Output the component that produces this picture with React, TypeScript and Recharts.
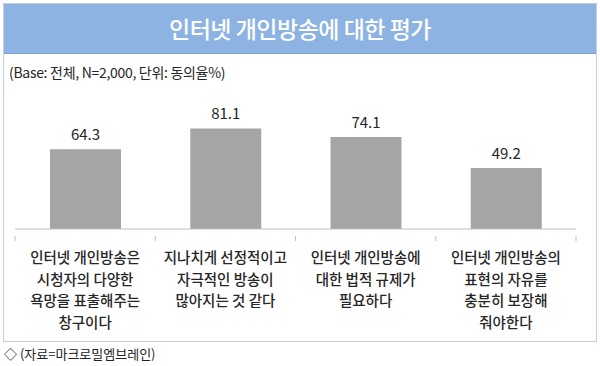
import React from "react";
import { BarChart, Bar, XAxis, YAxis, LabelList } from "recharts";

const categories: string[][] = [
  ["인터넷 개인방송은", "시청자의 다양한", "욕망을 표출해주는", "창구이다"],
  ["지나치게 선정적이고", "자극적인 방송이", "많아지는 것 같다"],
  ["인터넷 개인방송에", "대한 법적 규제가", "필요하다"],
  ["인터넷 개인방송의", "표현의 자유를", "충분히 보장해", "줘야한다"],
];
const values: number[] = [64.3, 81.1, 74.1, 49.2];

const title = "인터넷 개인방송에 대한 평가";
const baseNote = "(Base: 전체, N=2,000, 단위: 동의율%)";
const source = "◇ (자료=마크로밀엠브레인)";

const data = categories.map((lines, i) => ({ key: String(i), lines, value: values[i] }));

const FONT = "'Noto Sans CJK KR', 'Noto Sans', sans-serif";
const BAND = (576 - 15) / categories.length;

const Tick = (props: any) => {
  const { x, y, payload, index } = props;
  const idx = payload.index ?? index;
  const lines: string[] = categories[idx] || [];
  const left = x - BAND / 2;
  const right = x + BAND / 2;
  return (
    <g>
      <line x1={left} y1={y - 1} x2={left} y2={y + 4} stroke="#BFBFBF" />
      {idx === categories.length - 1 && (
        <line x1={right} y1={y - 1} x2={right} y2={y + 4} stroke="#BFBFBF" />
      )}
      {lines.map((l, i) => (
        <text
          key={i}
          x={x}
          y={y + 26 + i * 21.5}
          textAnchor="middle"
          fontFamily={FONT}
          fontSize={14.5}
          fontWeight={500}
          fill="#262626"
        >
          {l}
        </text>
      ))}
    </g>
  );
};

export default function App() {
  return (
    <div
      style={{
        position: "absolute",
        left: 0,
        top: 0,
        width: 600,
        height: 366,
        background: "#fff",
        fontFamily: FONT,
      }}
    >
      <div
        style={{
          position: "absolute",
          left: 3,
          top: 3,
          width: 592,
          height: 337,
          border: "1px solid #C5D0DC",
          boxSizing: "content-box",
        }}
      />
      <div
        style={{
          position: "absolute",
          left: 4,
          top: 4,
          width: 592,
          height: 49,
          background: "#8DB3E2",
          borderBottom: "1px solid #7FA2CE",
          color: "#fff",
          fontSize: 23,
          fontWeight: 500,
          textAlign: "center",
          lineHeight: "49px",
          letterSpacing: "-0.5px",
        }}
      >
        {title}
      </div>
      <div
        style={{
          position: "absolute",
          left: 9,
          top: 63,
          fontSize: 14,
          color: "#262626",
          lineHeight: "18px",
          letterSpacing: "-0.3px",
        }}
      >
        {baseNote}
      </div>
      <div
        style={{
          position: "absolute",
          left: 4,
          top: 345,
          fontSize: 13,
          color: "#222",
          lineHeight: "18px",
        }}
      >
        {source}
      </div>
      <div style={{ position: "absolute", left: 0, top: 0 }}>
        <BarChart
          width={600}
          height={366}
          data={data}
          margin={{ top: 105, right: 24, bottom: 0, left: 15 }}
        >
          <XAxis
            dataKey="key"
            height={137}
            axisLine={{ stroke: "#BFBFBF" }}
            tickLine={false}
            tick={<Tick />}
            interval={0}
          />
          <YAxis hide domain={[0, 100]} />
          <Bar dataKey="value" fill="#A5A5A5" barSize={71} isAnimationActive={false}>
            <LabelList
              dataKey="value"
              position="top"
              offset={9}
              fontFamily={FONT}
              fontSize={15}
              fill="#262626"
              formatter={(v: any) => Number(v).toFixed(1)}
            />
          </Bar>
        </BarChart>
      </div>
    </div>
  );
}
